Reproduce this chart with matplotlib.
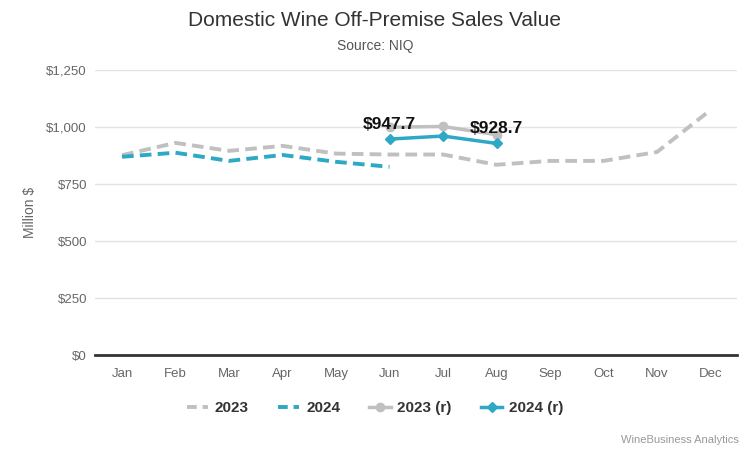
import matplotlib.pyplot as plt
from matplotlib.lines import Line2D

months = ['Jan', 'Feb', 'Mar', 'Apr', 'May', 'Jun', 'Jul', 'Aug', 'Sep', 'Oct', 'Nov', 'Dec']
sales_2023 = [877, 931, 896, 918, 884, 880, 880, 835, 852, 852, 891, 1075]
sales_2024 = [870, 888, 852, 878, 848, 826]
months_r = ['Jun', 'Jul', 'Aug']
sales_2023_r = [1000, 1003, 967]
sales_2024_r = [947.7, 961, 928.7]
yticks = [0, 250, 500, 750, 1000, 1250]

GRAY = '#c0c0c0'
BLUE = '#2da9c6'

plt.rcParams['font.family'] = ['Liberation Sans', 'DejaVu Sans']

fig = plt.figure(figsize=(7.5, 4.5), dpi=100)
ax = fig.add_axes([0.127, 0.211, 0.856, 0.633])

x_all = list(range(len(months)))
x_r = [months.index(m) for m in months_r]

ax.plot(x_all, sales_2023, color=GRAY, lw=2.8, dashes=(3, 1.6), zorder=2)
ax.plot(x_all[:len(sales_2024)], sales_2024, color=BLUE, lw=2.8, dashes=(3, 1.6), zorder=3)
ax.plot(x_r, sales_2023_r, color=GRAY, lw=2.5, marker='o', ms=6, zorder=4)
ax.plot(x_r, sales_2024_r, color=BLUE, lw=2.5, marker='D', ms=5, zorder=5)

for i in (0, 2):
    ax.annotate('${:,.1f}'.format(sales_2024_r[i]), (x_r[i], sales_2024_r[i]),
                xytext=(0, 5), textcoords='offset points', ha='center', va='bottom',
                fontsize=12.5, fontweight='bold', color='#111111', zorder=6)

ax.set_xlim(-0.5, 11.5)
ax.set_ylim(0, 1250)
ax.set_yticks(yticks)
ax.set_yticklabels(['${:,}'.format(v) for v in yticks])
ax.set_xticks(x_all)
ax.set_xticklabels(months)
ax.tick_params(axis='both', length=0, labelsize=9.5, colors='#666666')
ax.tick_params(axis='x', pad=9)
ax.tick_params(axis='y', pad=6)
ax.grid(axis='y', color='#e3e3e3', lw=1)
ax.set_axisbelow(True)
for s in ['top', 'right', 'left']:
    ax.spines[s].set_visible(False)
ax.spines['bottom'].set_color('#333333')
ax.spines['bottom'].set_linewidth(2)
ax.set_ylabel('Million $', fontsize=10, color='#666666', labelpad=7)

fig.text(0.5, 0.955, 'Domestic Wine Off-Premise Sales Value', ha='center', va='center',
         fontsize=15, color='#333333')
fig.text(0.5, 0.898, 'Source: NIQ', ha='center', va='center', fontsize=10, color='#555555')

handles = [
    Line2D([], [], color=GRAY, lw=2.8, dashes=(2.5, 1.5)),
    Line2D([], [], color=BLUE, lw=2.8, dashes=(2.5, 1.5)),
    Line2D([], [], color=GRAY, lw=2.5, marker='o', ms=6),
    Line2D([], [], color=BLUE, lw=2.5, marker='D', ms=5),
]
leg = fig.legend(handles, ['2023', '2024', '2023 (r)', '2024 (r)'], loc='center',
                 bbox_to_anchor=(0.5, 0.093), ncol=4, frameon=False, handlelength=1.4,
                 handletextpad=0.45, columnspacing=1.9, prop={'weight': 'bold', 'size': 11})
for t in leg.get_texts():
    t.set_color('#333333')

fig.text(0.985, 0.022, 'WineBusiness Analytics', ha='right', va='center', fontsize=8, color='#999999')

fig.savefig('out.png', dpi=100)
